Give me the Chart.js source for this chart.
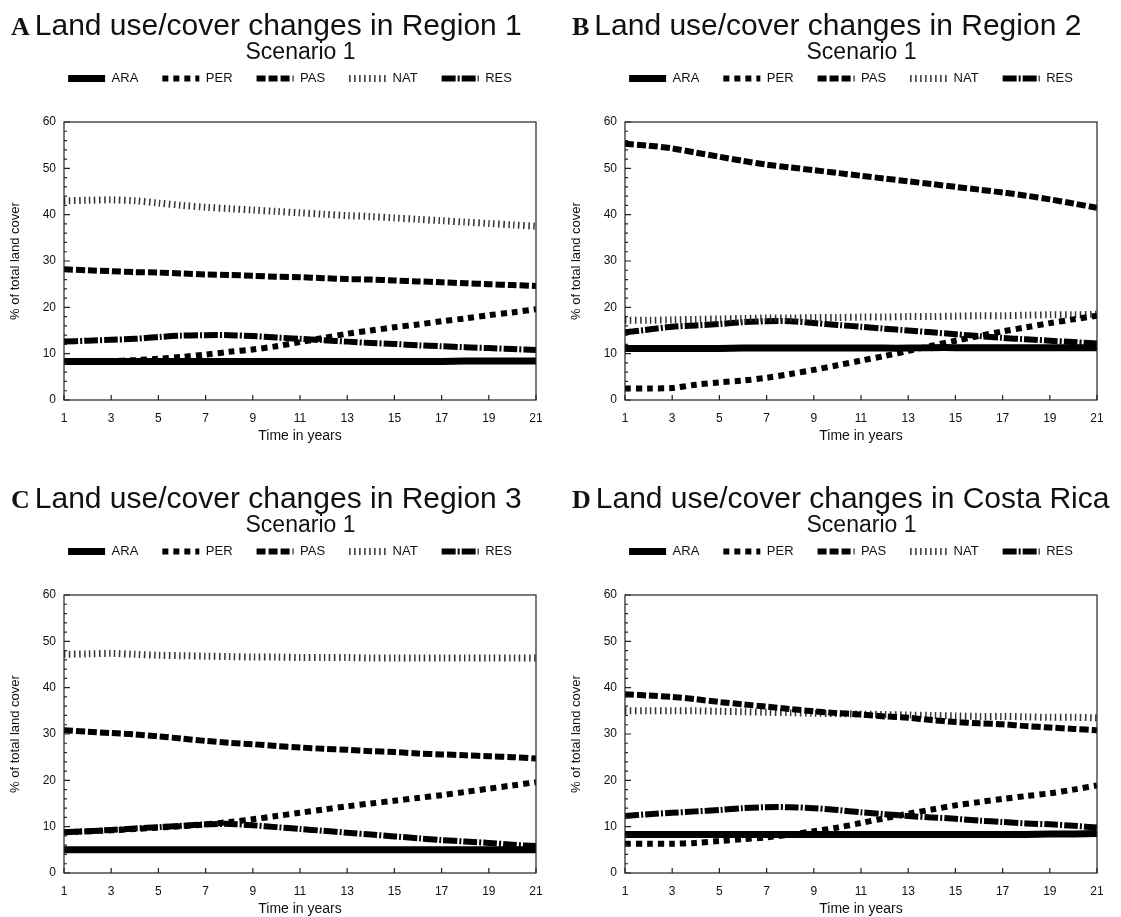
<!DOCTYPE html>
<html>
<head>
<meta charset="utf-8">
<script src="https://cdn.jsdelivr.net/npm/chart.js@4.4.1/dist/chart.umd.min.js"></script>
<style>
  body { margin: 0; background: #fff; width: 1121px; height: 917px; position: relative; overflow: hidden;
         font-family: 'Liberation Sans', Arial, sans-serif; color: #111; }
  .panel { position: absolute; width: 560px; height: 473px; }
  .panel canvas { position: absolute; left: 0; top: 0; }
  .head { position: absolute; left: 11px; top: 10px; white-space: nowrap; font-size: 30px; line-height: 30px; }
  .letter { font-family: 'Liberation Serif', 'Times New Roman', serif; font-weight: bold; font-size: 26px; margin-right: 5px; }
  .sub { position: absolute; left: 64px; width: 473px; top: 40px; text-align: center; font-size: 23px; line-height: 23px; }
</style>
</head>
<body>
<div class="panel" id="pA" style="left:0;top:0"></div>
<div class="panel" id="pB" style="left:561px;top:0"></div>
<div class="panel" id="pC" style="left:0;top:473px"></div>
<div class="panel" id="pD" style="left:561px;top:473px"></div>
<script>
// eixos
const years = [1, 2, 3, 4, 5, 6, 7, 8, 9, 10, 11, 12, 13, 14, 15, 16, 17, 18, 19, 20, 21];
const xTicks = [1, 3, 5, 7, 9, 11, 13, 15, 17, 19, 21];
const yTicks = [0, 10, 20, 30, 40, 50, 60];
const seriesNames = ['ARA', 'PER', 'PAS', 'NAT', 'RES'];

// Region 1
const r1ARA = [8.3, 8.3, 8.3, 8.3, 8.3, 8.3, 8.3, 8.3, 8.3, 8.3, 8.3, 8.3, 8.3, 8.3, 8.3, 8.3, 8.3, 8.4, 8.4, 8.4, 8.4];
const r1PER = [8.3, 8.3, 8.4, 8.6, 8.9, 9.3, 9.8, 10.4, 10.9, 11.6, 12.5, 13.4, 14.3, 15.0, 15.7, 16.3, 17.0, 17.6, 18.3, 18.9, 19.6];
const r1PAS = [28.2, 28.0, 27.8, 27.6, 27.5, 27.3, 27.1, 27.0, 26.8, 26.6, 26.5, 26.3, 26.1, 26.0, 25.8, 25.6, 25.4, 25.2, 25.0, 24.8, 24.6];
const r1NAT = [43.0, 43.1, 43.2, 43.0, 42.5, 42.0, 41.6, 41.3, 41.0, 40.7, 40.4, 40.1, 39.8, 39.6, 39.3, 39.0, 38.7, 38.4, 38.1, 37.8, 37.5];
const r1RES = [12.6, 12.8, 13.0, 13.2, 13.6, 13.9, 14.0, 14.0, 13.8, 13.5, 13.2, 12.9, 12.6, 12.3, 12.1, 11.8, 11.6, 11.4, 11.2, 11.0, 10.8];

// Region 2
const r2ARA = [11.1, 11.1, 11.1, 11.1, 11.1, 11.2, 11.2, 11.2, 11.2, 11.2, 11.2, 11.2, 11.2, 11.3, 11.3, 11.3, 11.3, 11.3, 11.3, 11.3, 11.3];
const r2PER = [2.5, 2.5, 2.6, 3.3, 3.8, 4.2, 4.8, 5.6, 6.5, 7.5, 8.5, 9.5, 10.6, 11.7, 12.8, 13.8, 14.8, 15.7, 16.6, 17.4, 18.2];
const r2PAS = [55.3, 54.9, 54.3, 53.4, 52.5, 51.6, 50.8, 50.2, 49.6, 49.0, 48.4, 47.8, 47.2, 46.6, 46.0, 45.4, 44.8, 44.1, 43.3, 42.4, 41.5];
const r2NAT = [17.2, 17.2, 17.3, 17.4, 17.5, 17.6, 17.7, 17.7, 17.8, 17.8, 17.9, 17.9, 18.0, 18.0, 18.1, 18.2, 18.2, 18.3, 18.4, 18.4, 18.5];
const r2RES = [14.6, 15.2, 15.8, 16.1, 16.4, 16.8, 17.0, 17.0, 16.6, 16.2, 15.8, 15.4, 15.0, 14.6, 14.2, 13.8, 13.4, 13.1, 12.8, 12.5, 12.2];

// Region 3
const r3ARA = [5.0, 5.0, 5.0, 5.0, 5.0, 5.0, 5.0, 5.0, 5.0, 5.0, 5.0, 5.0, 5.0, 5.0, 5.0, 5.0, 5.0, 5.0, 5.0, 5.0, 5.0];
const r3PER = [8.8, 9.0, 9.2, 9.5, 9.8, 10.1, 10.5, 11.0, 11.6, 12.3, 13.0, 13.7, 14.4, 15.0, 15.6, 16.2, 16.8, 17.5, 18.2, 18.9, 19.6];
const r3PAS = [30.8, 30.5, 30.2, 29.9, 29.5, 29.0, 28.5, 28.1, 27.8, 27.4, 27.1, 26.8, 26.6, 26.3, 26.1, 25.8, 25.6, 25.4, 25.2, 25.0, 24.7];
const r3NAT = [47.2, 47.3, 47.4, 47.2, 47.0, 46.9, 46.8, 46.7, 46.6, 46.6, 46.5, 46.5, 46.5, 46.4, 46.4, 46.4, 46.4, 46.4, 46.4, 46.4, 46.4];
const r3RES = [8.8, 9.0, 9.3, 9.6, 9.9, 10.2, 10.5, 10.6, 10.3, 9.9, 9.5, 9.1, 8.7, 8.3, 7.9, 7.5, 7.1, 6.8, 6.5, 6.1, 5.8];

// Costa Rica
const crARA = [8.3, 8.3, 8.3, 8.3, 8.3, 8.3, 8.3, 8.3, 8.3, 8.3, 8.3, 8.3, 8.3, 8.3, 8.3, 8.3, 8.3, 8.3, 8.4, 8.4, 8.5];
const crPER = [6.3, 6.3, 6.3, 6.5, 6.9, 7.3, 7.7, 8.3, 9.0, 9.8, 10.8, 11.8, 12.8, 13.7, 14.6, 15.3, 16.0, 16.6, 17.2, 18.0, 18.9];
const crPAS = [38.6, 38.3, 38.0, 37.5, 36.9, 36.4, 35.9, 35.4, 34.9, 34.5, 34.2, 33.8, 33.5, 33.0, 32.6, 32.3, 32.1, 31.7, 31.4, 31.1, 30.8];
const crNAT = [35.0, 35.0, 35.0, 35.0, 34.9, 34.8, 34.7, 34.6, 34.5, 34.4, 34.3, 34.2, 34.1, 34.0, 33.9, 33.8, 33.8, 33.7, 33.6, 33.6, 33.5];
const crRES = [12.3, 12.7, 13.0, 13.3, 13.6, 14.0, 14.2, 14.2, 14.0, 13.6, 13.1, 12.7, 12.3, 12.0, 11.7, 11.3, 11.0, 10.7, 10.5, 10.2, 9.8];

const panels = [
  { id: 'pA', letter: 'A', title: 'Land use/cover changes in Region 1', series: [r1ARA, r1PER, r1PAS, r1NAT, r1RES] },
  { id: 'pB', letter: 'B', title: 'Land use/cover changes in Region 2', series: [r2ARA, r2PER, r2PAS, r2NAT, r2RES] },
  { id: 'pC', letter: 'C', title: 'Land use/cover changes in Region 3', series: [r3ARA, r3PER, r3PAS, r3NAT, r3RES] },
  { id: 'pD', letter: 'D', title: 'Land use/cover changes in Costa Rica', series: [crARA, crPER, crPAS, crNAT, crRES] }
];

// estilos de linha (espessura e tracejado) por série
const lineStyles = {
  ARA: { width: 7, dash: [], color: '#000' },
  PER: { width: 6, dash: [6, 5], color: '#000' },
  PAS: { width: 6, dash: [9, 3], color: '#000' },
  NAT: { width: 7, dash: [1.5, 3.5], color: '#333' },
  RES: { width: 6, dash: [14, 2, 2, 2], color: '#000' }
};

Chart.defaults.font.family = "'Liberation Sans', Arial, sans-serif";
Chart.defaults.color = '#111';

// moldura e marcas de escala para dentro
const frameTicks = {
  id: 'frameTicks',
  afterDatasetsDraw(chart) {
    const { ctx, chartArea: a, scales: { x, y } } = chart;
    ctx.save();
    ctx.strokeStyle = '#222';
    ctx.lineWidth = 1.2;
    ctx.setLineDash([]);
    ctx.strokeRect(a.left, a.top, a.right - a.left, a.bottom - a.top);
    ctx.beginPath();
    xTicks.forEach(t => {
      const px = x.getPixelForValue(t);
      ctx.moveTo(px, a.bottom);
      ctx.lineTo(px, a.bottom - 5);
    });
    for (let v = yTicks[0]; v <= yTicks[yTicks.length - 1]; v += 2) {
      const py = y.getPixelForValue(v);
      ctx.moveTo(a.left, py);
      ctx.lineTo(a.left + (v % 10 === 0 ? 6 : 3), py);
    }
    ctx.stroke();
    ctx.restore();
  }
};

// espaço extra abaixo da legenda e deslocamento horizontal
const legendSpacing = {
  id: 'legendSpacing',
  beforeInit(chart) {
    const fit = chart.legend.fit;
    chart.legend.fit = function () {
      fit.call(this);
      this.height += 27;
    };
  },
  afterLayout(chart) {
    chart.legend.left += 22;
    chart.legend.right += 22;
  }
};

// itens da legenda com o mesmo traço das linhas
function legendaItens(chart) {
  return chart.data.datasets.map((ds, i) => ({
    text: ds.label,
    fillStyle: 'rgba(0,0,0,0)',
    strokeStyle: ds.borderColor,
    lineWidth: ds.borderWidth,
    lineDash: ds.borderDash,
    lineCap: 'butt',
    pointStyle: 'line',
    fontColor: '#111',
    hidden: false,
    datasetIndex: i
  }));
}

function criarPainel(p) {
  const box = document.getElementById(p.id);
  box.innerHTML =
    '<canvas width="560" height="473"></canvas>' +
    '<div class="head"><span class="letter">' + p.letter + '</span>' + p.title + '</div>' +
    '<div class="sub">Scenario 1</div>';
  const canvas = box.querySelector('canvas');

  const datasets = seriesNames.map((name, i) => ({
    label: name,
    data: p.series[i],
    borderColor: lineStyles[name].color,
    backgroundColor: lineStyles[name].color,
    borderWidth: lineStyles[name].width,
    borderDash: lineStyles[name].dash,
    borderCapStyle: 'butt',
    pointRadius: 0,
    tension: 0.3,
    fill: false
  }));

  new Chart(canvas, {
    type: 'line',
    data: { labels: years, datasets: datasets },
    plugins: [frameTicks, legendSpacing],
    options: {
      responsive: false,
      devicePixelRatio: 1,
      animation: false,
      layout: { padding: { top: 48, right: 24, bottom: 0, left: 0 } },
      plugins: {
        tooltip: { enabled: false },
        title: { display: false },
        legend: {
          display: true,
          position: 'top',
          labels: {
            usePointStyle: true,
            pointStyle: 'line',
            pointStyleWidth: 37,
            boxHeight: 13,
            padding: 24,
            color: '#111',
            font: { size: 13 },
            generateLabels: legendaItens
          }
        }
      },
      scales: {
        x: {
          type: 'linear',
          min: 1,
          max: 21,
          afterBuildTicks: s => { s.ticks = xTicks.map(v => ({ value: v })); },
          afterFit: s => { s.height = 73; },
          grid: { display: false, drawTicks: false },
          border: { display: false },
          ticks: { padding: 11, font: { size: 12 }, color: '#111', maxRotation: 0 },
          title: { display: true, text: 'Time in years', font: { size: 14 }, color: '#111', padding: { top: 0, bottom: 28 } }
        },
        y: {
          min: yTicks[0],
          max: yTicks[yTicks.length - 1],
          afterBuildTicks: s => { s.ticks = yTicks.map(v => ({ value: v })); },
          afterFit: s => { s.width = 64; },
          grid: { display: false, drawTicks: false },
          border: { display: false },
          ticks: { padding: 8, font: { size: 12 }, color: '#111' },
          title: { display: true, text: '% of total land cover', font: { size: 13 }, color: '#111', padding: { top: 8, bottom: 0 } }
        }
      }
    }
  });
}

panels.forEach(criarPainel);
</script>
</body>
</html>
